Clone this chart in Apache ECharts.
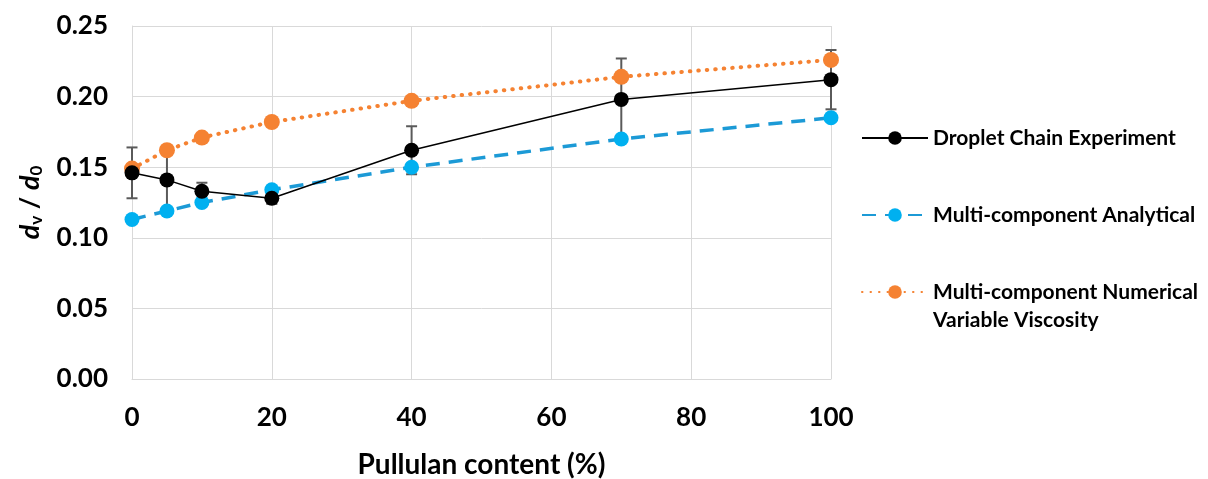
<!DOCTYPE html>
<html>
<head>
<meta charset="utf-8">
<script src="https://cdn.jsdelivr.net/npm/echarts@6/dist/echarts.min.js"></script>
<style>
html,body{margin:0;padding:0;background:#fff;}
#chart{width:1208px;height:479px;}
</style>
</head>
<body>
<div id="chart"></div>
<script>
// ---- data ----
const pullulan = [0, 5, 10, 20, 40, 70, 100];
const dropletExp = [0.146, 0.141, 0.133, 0.128, 0.162, 0.198, 0.212];
const dropletErr = [0.018, 0.023, 0.006, 0.004, 0.017, 0.029, 0.021];
const analytical = [0.113, 0.119, 0.125, 0.134, 0.150, 0.170, 0.185];
const numerical = [0.149, 0.162, 0.171, 0.182, 0.197, 0.214, 0.226];
const seriesNames = ['Droplet Chain Experiment', 'Multi-component Analytical', 'Multi-component Numerical Variable Viscosity'];
const xTicks = [0, 20, 40, 60, 80, 100];
const yTicks = [0, 0.05, 0.10, 0.15, 0.20, 0.25];

const FONT = 'Lato';
const pairs = (ys) => pullulan.map((x, i) => [x, ys[i]]);
const errData = pullulan.map((x, i) => [x, dropletExp[i] - dropletErr[i], dropletExp[i] + dropletErr[i]]);

const chart = echarts.init(document.getElementById('chart'), null, {renderer: 'canvas'});

const legendBase = {
  orient: 'vertical', left: 861, padding: 0,
  itemWidth: 66, itemHeight: 17, selectedMode: false,
  textStyle: {fontFamily: FONT, fontWeight: 'bold', fontSize: 21, color: '#000', lineHeight: 28}
};

chart.setOption({
  animation: false,
  backgroundColor: '#fff',
  grid: {left: 132, right: 377, top: 26, bottom: 100, outerBoundsMode: 'none', containLabel: false},
  legend: [
    Object.assign({}, legendBase, {top: 124, data: [seriesNames[0]]}),
    Object.assign({}, legendBase, {top: 201, data: [seriesNames[1]]}),
    Object.assign({}, legendBase, {top: 250, data: [seriesNames[2]],
      formatter: () => '\nMulti-component Numerical\nVariable Viscosity'})
  ],
  xAxis: {
    type: 'value', min: xTicks[0], max: xTicks[xTicks.length - 1], interval: 20,
    name: 'Pullulan content (%)', nameLocation: 'middle', nameGap: 72,
    nameTextStyle: {fontFamily: FONT, fontWeight: 'bold', fontSize: 28, color: '#000'},
    axisLine: {show: true, lineStyle: {color: '#d9d9d9', width: 1}},
    axisTick: {show: false},
    axisLabel: {fontFamily: FONT, fontWeight: 'bold', fontSize: 26, color: '#000', margin: 26},
    splitLine: {show: true, lineStyle: {color: '#d9d9d9', width: 1}}
  },
  yAxis: {
    type: 'value', min: yTicks[0], max: yTicks[yTicks.length - 1], interval: 0.05,
    name: '{i|d}{s|v}{n| / }{i|d}{s|0}', nameLocation: 'middle', nameGap: 87, nameRotate: 90,
    nameTextStyle: {
      color: '#000',
      rich: {
        i: {fontFamily: FONT, fontWeight: 'bold', fontStyle: 'italic', fontSize: 27, color: '#000'},
        n: {fontFamily: FONT, fontWeight: 'bold', fontSize: 27, color: '#000'},
        s: {fontFamily: FONT, fontWeight: 'bold', fontSize: 17, color: '#000', padding: [12, 0, 0, 0]}
      }
    },
    axisLine: {show: true, lineStyle: {color: '#d9d9d9', width: 1}},
    axisTick: {show: false},
    axisLabel: {fontFamily: FONT, fontWeight: 'bold', fontSize: 26, color: '#000', margin: 24,
      formatter: (v) => v.toFixed(2)},
    splitLine: {show: true, lineStyle: {color: '#d9d9d9', width: 1}}
  },
  series: [
    {
      type: 'custom', name: 'err', z: 1, silent: true,
      data: errData,
      renderItem: (params, api) => {
        const x = api.value(0);
        const lo = api.coord([x, api.value(1)]);
        const hi = api.coord([x, api.value(2)]);
        const w = 5.5;
        const st = {stroke: '#5a5a5a', lineWidth: 2};
        return {type: 'group', children: [
          {type: 'line', shape: {x1: lo[0], y1: lo[1], x2: hi[0], y2: hi[1]}, style: st},
          {type: 'line', shape: {x1: hi[0] - w, y1: hi[1], x2: hi[0] + w, y2: hi[1]}, style: st},
          {type: 'line', shape: {x1: lo[0] - w, y1: lo[1], x2: lo[0] + w, y2: lo[1]}, style: st}
        ]};
      }
    },
    {
      type: 'line', name: seriesNames[1], z: 3, clip: false,
      data: pairs(analytical),
      symbol: 'circle', symbolSize: 15,
      itemStyle: {color: '#00b0f0'},
      lineStyle: {color: '#1c9ad6', width: 3.5, type: [14, 9]}
    },
    {
      type: 'line', name: seriesNames[2], z: 4, clip: false,
      data: pairs(numerical),
      symbol: 'circle', symbolSize: 16,
      itemStyle: {color: '#f58232'},
      lineStyle: {color: '#f58232', width: 4, type: [0.5, 8], cap: 'round'}
    },
    {
      type: 'line', name: seriesNames[0], z: 5, clip: false,
      data: pairs(dropletExp),
      symbol: 'circle', symbolSize: 15,
      itemStyle: {color: '#000'},
      lineStyle: {color: '#000', width: 1.5}
    }
  ]
});
</script>
</body>
</html>
